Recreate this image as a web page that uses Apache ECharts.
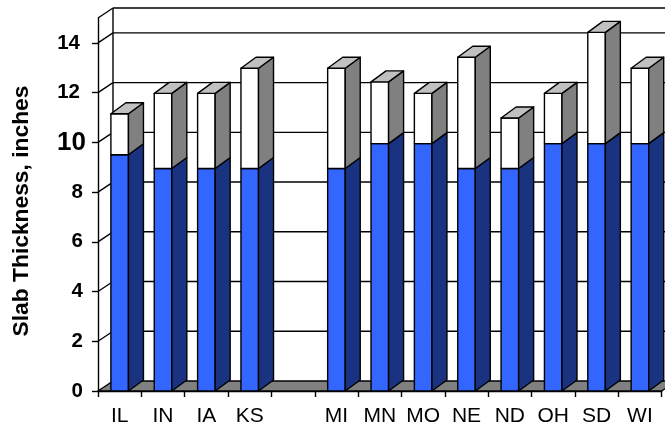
<!DOCTYPE html>
<html><head><meta charset="utf-8">
<style>html,body{margin:0;padding:0;background:#fff}#c{width:665px;height:430px}</style>
<script src="https://cdn.jsdelivr.net/npm/echarts@6/dist/echarts.min.js"></script>
</head><body><div id="c"></div>
<script>
const categories = ['IL','IN','IA','KS','','MI','MN','MO','NE','ND','OH','SD','WI'];
const slabBase = [9.5,8.95,8.95,8.95,null,8.95,9.95,9.95,8.95,8.95,9.95,9.95,9.95];
const slabTop  = [11.15,11.97,11.97,12.98,null,12.98,12.43,11.97,13.42,10.98,11.97,14.42,12.98];
const yTicks = [0,2,4,6,8,10,12,14];
const yMax = 15;
const DX = 15, WALL_DY = 10, BAR_DY = 11;
const BAR_RATIO = 0.405;
const INK = '#000';
const LW = 1.4;
const face = (pts, fill) => ({type:'polygon', shape:{points:pts}, style:{fill, stroke:INK, lineWidth:LW, lineJoin:'round'}});
const line = (a, b) => ({type:'line', shape:{x1:a[0],y1:a[1],x2:b[0],y2:b[1]}, style:{stroke:INK, lineWidth:LW}});
function wallItem(params, api){
  const v = api.value(0), cs = params.coordSys;
  const y = api.coord([0, v])[1];
  const L = cs.x, R = cs.x + cs.width;
  const kids = [];
  if (params.dataIndex === 0) {
    const yT = api.coord([0, yMax])[1];
    kids.push(face([[L,y],[R,y],[R+DX,y-WALL_DY],[L+DX,y-WALL_DY]], '#808080'));
    kids.push(line([L+DX,y-WALL_DY],[L+DX,yT-WALL_DY]));
  } else {
    kids.push(line([L,y],[L+DX,y-WALL_DY]), line([L+DX,y-WALL_DY],[R+DX,y-WALL_DY]));
  }
  return {type:'group', children:kids};
}
function barItem(params, api){
  const i = api.value(0), b = api.value(1), t = api.value(2);
  const w = api.size([1,0])[0] * BAR_RATIO;
  const c = api.coord([i,0]);
  const x0 = c[0]-w/2, x1 = c[0]+w/2, y0 = c[1];
  const yb = api.coord([i,b])[1], yt = api.coord([i,t])[1];
  const D = BAR_DY;
  return {type:'group', children:[
    face([[x0,yb],[x1,yb],[x1,y0],[x0,y0]], '#3366FF'),
    face([[x1,yb],[x1+DX,yb-D],[x1+DX,y0-D],[x1,y0]], '#1A3380'),
    face([[x0,yt],[x1,yt],[x1,yb],[x0,yb]], '#FFFFFF'),
    face([[x1,yt],[x1+DX,yt-D],[x1+DX,yb-D],[x1,yb]], '#808080'),
    face([[x0,yt],[x1,yt],[x1+DX,yt-D],[x0+DX,yt-D]], '#C0C0C0')
  ]};
}
const chart = echarts.init(document.getElementById('c'), null, {renderer:'canvas'});
const labelBase = {fontFamily:'Liberation Sans',fontWeight:'bold',color:'#000'};
chart.setOption({
  animation:false,
  grid:{left:98, top:18, width:563.6, height:373, outerBoundsMode:'none', containLabel:false},
  xAxis:{type:'category', data:categories, boundaryGap:true,
    axisLine:{lineStyle:{color:INK,width:LW}},
    axisTick:{show:true,length:6,alignWithLabel:false,interval:0,lineStyle:{color:INK,width:LW}},
    axisLabel:{interval:0,color:'#000',fontFamily:'Liberation Sans',fontSize:21,margin:15},
    splitLine:{show:false}},
  yAxis:{type:'value', min:0, max:yMax, interval:2,
    name:'Slab Thickness, inches', nameLocation:'middle', nameGap:65,
    nameTextStyle:{fontFamily:'Liberation Sans',fontWeight:'bold',fontSize:22.8,color:'#000',padding:[0,13,0,0]},
    axisLine:{show:true,lineStyle:{color:INK,width:LW}},
    axisTick:{show:true,length:6,customValues:yTicks,lineStyle:{color:INK,width:LW}},
    axisLabel:{margin:12,customValues:yTicks,
      formatter:v=> v===10 ? '{big|10}' : (v>=10 ? '{two|'+v+'}' : '{one|'+v+'}'),
      rich:{
        big:{...labelBase,fontSize:26},
        two:{...labelBase,fontSize:20.5,padding:[0,6,0,0]},
        one:{...labelBase,fontSize:20.5,padding:[0,3,0,0]}
      }},
    splitLine:{show:false}},
  series:[
    {type:'custom', renderItem:wallItem, data:yTicks.concat([yMax]).map(v=>[v]), encode:{y:0}, z:1, silent:true},
    {type:'custom', renderItem:barItem, data:categories.map((c,i)=>[i,slabBase[i],slabTop[i]]).filter(d=>d[1]!==null), encode:{x:0,y:[1,2]}, z:2, silent:true}
  ]
});
</script></body></html>
